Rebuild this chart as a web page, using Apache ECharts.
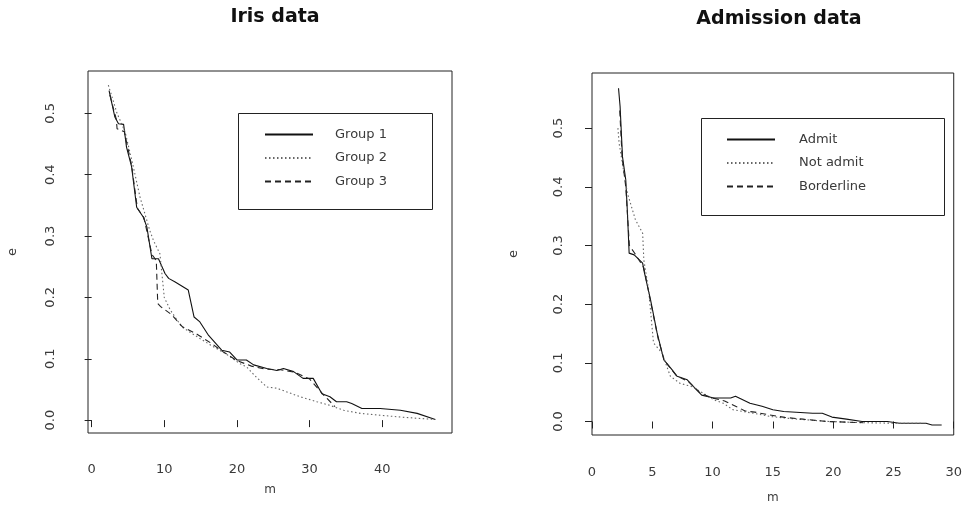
<!DOCTYPE html>
<html>
<head>
<meta charset="utf-8">
<script src="https://cdn.jsdelivr.net/npm/echarts@6/dist/echarts.min.js"></script>
<style>
html,body{margin:0;padding:0;background:#fff;}
#chart{width:965px;height:525px;}
</style>
</head>
<body>
<div id="chart"></div>
<script>
// ---- Iris data (left panel) ----
const irisTitle = "Iris data";
const irisNames = ["Group 1", "Group 2", "Group 3"];
const g1M = [2.4,3.2,3.7,4.4,4.8,5.5,6.2,7.1,7.6,8.3,9.2,10.1,10.6,11.5,13.3,14.1,14.9,16.1,17.9,19.0,20.0,21.3,22.3,24.1,25.5,26.4,27.8,29.1,30.5,31.7,32.8,33.7,35.1,35.8,37.2,39.7,42.5,44.8,47.3];
const g1E = [0.537,0.494,0.483,0.482,0.445,0.413,0.347,0.331,0.315,0.263,0.263,0.239,0.231,0.225,0.212,0.168,0.160,0.138,0.114,0.111,0.098,0.098,0.090,0.084,0.081,0.084,0.079,0.068,0.068,0.043,0.038,0.030,0.030,0.027,0.019,0.019,0.016,0.011,0.001];
const g2M = [2.3,3.5,4.6,5.6,6.65,8.0,8.5,9.4,10.0,10.8,12.4,14.9,16.7,18.5,20.4,21.3,22.5,24.1,25.5,28.7,31.0,32.8,34.7,37.0,39.7,42.5,44.8,47.3];
const g2E = [0.546,0.50,0.47,0.42,0.364,0.309,0.293,0.271,0.20,0.18,0.152,0.133,0.12,0.108,0.092,0.087,0.072,0.054,0.052,0.038,0.030,0.024,0.016,0.011,0.008,0.005,0.003,0.001];
const g3M = [2.5,3.4,3.5,4.5,5.5,6.3,7.2,8.3,8.9,9.1,9.5,11.0,12.5,14.5,16.5,18.0,20.0,22.0,24.0,26.0,28.0,30.0,32.0,33.5];
const g3E = [0.53,0.49,0.475,0.47,0.415,0.345,0.33,0.27,0.26,0.19,0.185,0.172,0.152,0.14,0.125,0.112,0.097,0.088,0.083,0.082,0.078,0.067,0.040,0.022];
const irisXTicks = [0,10,20,30,40];
const irisYTicks = [0,0.1,0.2,0.3,0.4,0.5];

// ---- Admission data (right panel) ----
const admTitle = "Admission data";
const admNames = ["Admit", "Not admit", "Borderline"];
const aM = [2.2,2.33,2.53,2.8,2.94,3.08,3.5,4.2,4.3,4.86,5.4,5.96,6.65,7.06,7.9,8.4,9.1,10.1,11.5,11.9,13.1,14.1,15.0,15.9,18.3,19.1,19.9,21.1,22.4,24.5,25.5,27.7,28.2,29.0];
const aE = [0.568,0.537,0.451,0.412,0.355,0.287,0.284,0.27,0.258,0.207,0.151,0.105,0.088,0.077,0.071,0.06,0.045,0.04,0.04,0.043,0.031,0.026,0.02,0.017,0.014,0.014,0.0075,0.004,0.0,0.0,-0.003,-0.003,-0.006,-0.006];
const nM = [2.15,2.25,2.6,2.94,3.6,4.2,4.3,4.7,5.1,5.8,6.5,7.3,8.2,9.0,10.1,10.9,11.7,13.4,14.8,17.0,19.7,22.4,25.2,27.5];
const nE = [0.50,0.474,0.43,0.389,0.344,0.321,0.275,0.224,0.134,0.117,0.077,0.065,0.06,0.051,0.037,0.031,0.02,0.014,0.0085,0.004,0.0,-0.002,-0.003,-0.003];
const bM = [2.3,2.5,2.8,3.1,3.6,4.3,4.9,5.5,6.0,7.0,8.0,9.0,10.0,11.0,12.0,12.7,13.5,14.5,16.0,17.5,18.5,19.5,21.0,22.5];
const bE = [0.53,0.45,0.40,0.30,0.285,0.262,0.2,0.14,0.104,0.078,0.068,0.048,0.04,0.035,0.025,0.018,0.016,0.012,0.007,0.004,0.002,0.0,-0.001,-0.002];
const admXTicks = [0,5,10,15,20,25,30];
const admYTicks = [0,0.1,0.2,0.3,0.4,0.5];

const zip = (xs, ys) => xs.map((x, i) => [x, ys[i]]);
const FONT = "DejaVu Sans";
const TXT = "#3a3a3a";

function xAxisCfg(gi, min, max, ticks, gap, margin) {
  return {
    type: "value", gridIndex: gi, min: min, max: max,
    name: "m", nameLocation: "middle", nameGap: gap,
    nameTextStyle: {fontFamily: FONT, fontSize: 12, color: TXT},
    axisLine: {show: false},
    splitLine: {show: false},
    axisTick: {show: true, length: 7, customValues: ticks, lineStyle: {color: "#222"}},
    axisLabel: {customValues: ticks, margin: margin, fontFamily: FONT, fontSize: 13, color: TXT,
      formatter: v => String(v)}
  };
}
function yAxisCfg(gi, min, max, ticks, gap, margin) {
  return {
    type: "value", gridIndex: gi, min: min, max: max,
    name: "e", nameLocation: "middle", nameGap: gap, nameRotate: 90,
    nameTextStyle: {fontFamily: FONT, fontSize: 13, color: TXT},
    axisLine: {show: false},
    splitLine: {show: false},
    axisTick: {show: true, length: 7, customValues: ticks, lineStyle: {color: "#222"}},
    axisLabel: {customValues: ticks, margin: margin, rotate: 90, fontFamily: FONT, fontSize: 13, color: TXT,
      formatter: v => v.toFixed(1)}
  };
}
function lineSeries(name, gi, data, type, color) {
  return {
    name: name, type: "line", xAxisIndex: gi, yAxisIndex: gi,
    data: data, showSymbol: false, symbol: "none", animation: false,
    lineStyle: {color: color, width: 1.1, type: type},
    itemStyle: {color: color}
  };
}
const legendCommon = {
  orient: "vertical", padding: 0, itemWidth: 48, itemHeight: 14, itemGap: 10.5, selectedMode: false,
  itemStyle: {color: "rgba(0,0,0,0)", borderWidth: 0, opacity: 0}
};

const chart = echarts.init(document.getElementById("chart"), null, {renderer: "canvas"});
chart.setOption({
  backgroundColor: "#fff",
  animation: false,
  title: [
    {text: irisTitle, left: 270, top: 3, textAlign: "center",
     textStyle: {fontFamily: FONT, fontSize: 19, fontWeight: "bold", color: "#111"}},
    {text: admTitle, left: 774, top: 5, textAlign: "center",
     textStyle: {fontFamily: FONT, fontSize: 19, fontWeight: "bold", color: "#111"}}
  ],
  grid: [
    {left: 88, top: 71, width: 364, height: 362, show: true, borderColor: "#222", borderWidth: 1, backgroundColor: "transparent"},
    {left: 592, top: 73, width: 363, height: 362, show: true, borderColor: "#222", borderWidth: 1, backgroundColor: "transparent"}
  ],
  xAxis: [
    xAxisCfg(0, -0.5, 49.6, irisXTicks, 51, 30),
    xAxisCfg(1, 0, 30, admXTicks, 57, 31)
  ],
  yAxis: [
    yAxisCfg(0, -0.021, 0.569, irisYTicks, 69, 31),
    yAxisCfg(1, -0.023, 0.594, admYTicks, 72, 27)
  ],
  legend: [
    Object.assign({data: irisNames, left: 264, top: 128,
     textStyle: {fontFamily: FONT, fontSize: 13, color: TXT, padding: [0, 0, 0, 17]}}, legendCommon),
    Object.assign({data: admNames, left: 726, top: 133,
     textStyle: {fontFamily: FONT, fontSize: 13, color: TXT, padding: [0, 0, 0, 19]}}, legendCommon)
  ],
  graphic: [
    {type: "rect", shape: {x: 238.5, y: 113.5, width: 194, height: 96}, style: {fill: "none", stroke: "#222", lineWidth: 1}, silent: true},
    {type: "rect", shape: {x: 701.5, y: 118.5, width: 243, height: 97}, style: {fill: "none", stroke: "#222", lineWidth: 1}, silent: true}
  ],
  series: [
    lineSeries(irisNames[0], 0, zip(g1M, g1E), "solid", "#111"),
    lineSeries(irisNames[1], 0, zip(g2M, g2E), [1.5, 2.5], "#666"),
    lineSeries(irisNames[2], 0, zip(g3M, g3E), [6, 4], "#222"),
    lineSeries(admNames[0], 1, zip(aM, aE), "solid", "#111"),
    lineSeries(admNames[1], 1, zip(nM, nE), [1.5, 2.5], "#666"),
    lineSeries(admNames[2], 1, zip(bM, bE), [6, 4], "#222")
  ]
});
</script>
</body>
</html>
